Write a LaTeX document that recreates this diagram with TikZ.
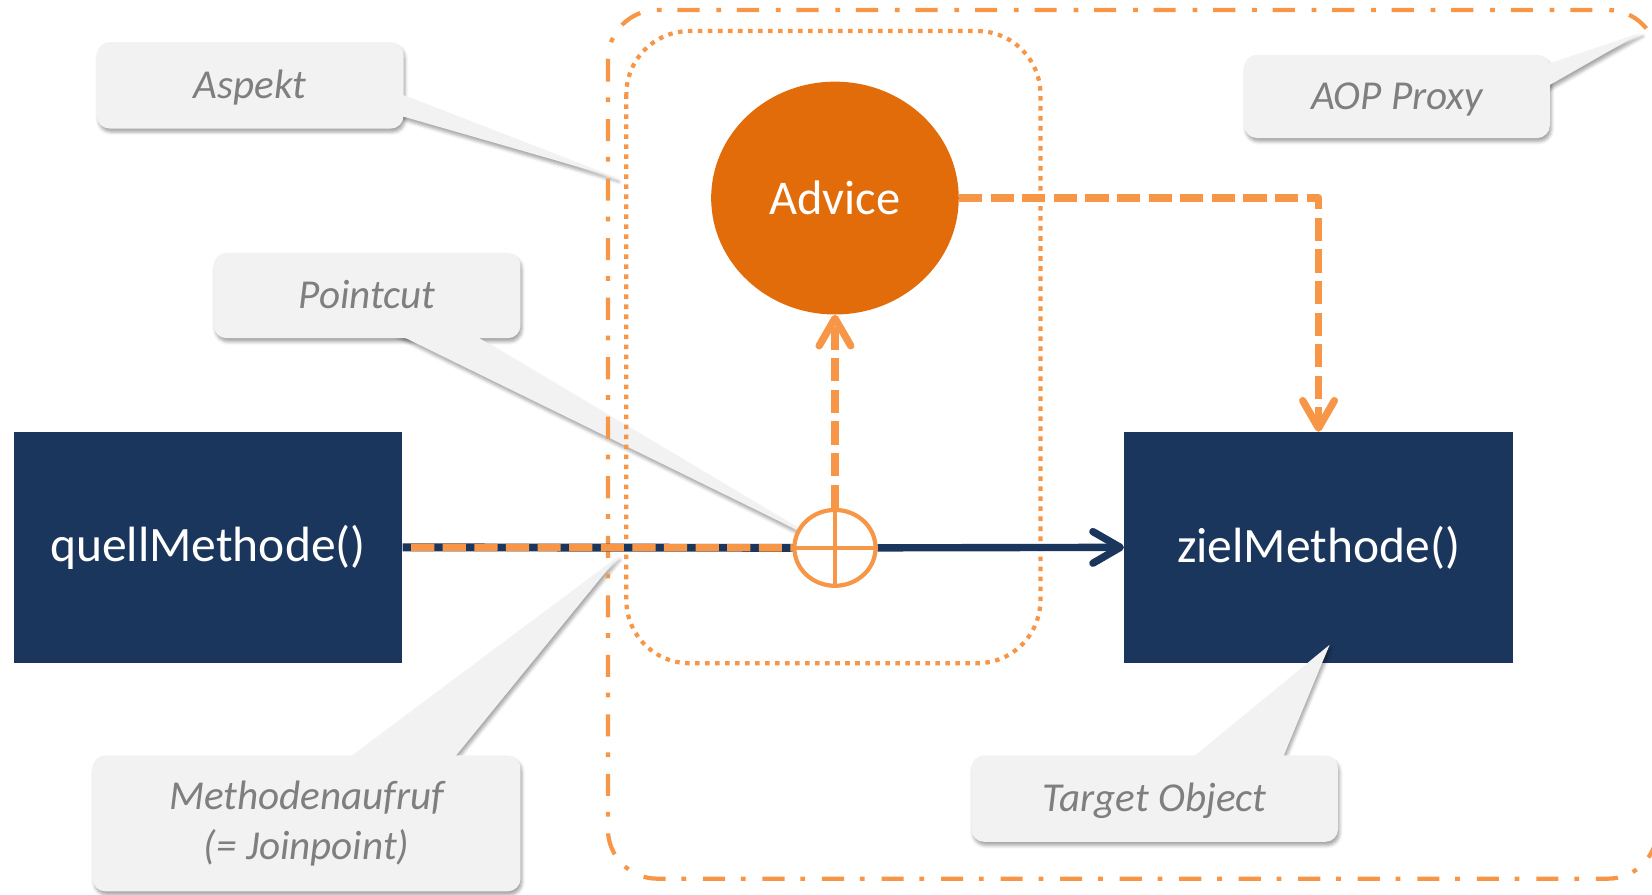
\documentclass[tikz,border=0pt]{standalone}
\usepackage{fontspec}
\setmainfont{Carlito}
\usetikzlibrary{arrows.meta,shapes.geometric,shadows.blur}

\definecolor{navy}{HTML}{1B365D}
\definecolor{advorange}{HTML}{E36C0A}
\definecolor{lineorange}{HTML}{F79646}
\definecolor{calloutgray}{HTML}{F2F2F2}
\definecolor{labelgray}{HTML}{7F7F7F}

\tikzset{
  softshadow/.style={blur shadow={shadow xshift=1.5pt, shadow yshift=-3.5pt,
      shadow blur radius=3pt, shadow opacity=35}},
  methodbox/.style={rectangle, fill=navy, text=white, inner sep=0pt,
      minimum width=369pt, minimum height=219pt,
      font=\fontsize{47}{56}\selectfont},
  advicenode/.style={ellipse, fill=advorange, text=white, inner sep=0pt,
      minimum width=235pt, minimum height=221pt,
      font=\fontsize{46}{55}\selectfont},
  joinpoint/.style={ellipse, draw=lineorange, fill=white, line width=4pt,
      inner sep=0pt, minimum width=77pt, minimum height=72pt},
  calloutbox/.style={rectangle, rounded corners=12pt, fill=calloutgray,
      text=labelgray, inner sep=0pt, align=center, softshadow,
      font=\fontsize{39}{48}\selectfont\itshape},
  oneline/.style={text height=30pt, text depth=5pt},
  wedgefill/.style={fill=calloutgray},
  proxyframe/.style={draw=lineorange, line width=4pt, rounded corners=47pt,
      dash pattern=on 21pt off 15pt on 4.5pt off 16pt},
  aspectframe/.style={draw=lineorange, line width=4pt, rounded corners=60pt,
      dash pattern=on 4.3pt off 5.2pt},
  orangedash/.style={draw=lineorange, line width=7pt,
      dash pattern=on 22pt off 8pt},
  barb/.style={-{Straight Barb[length=26pt,width=30pt,round]}},
}

\begin{document}
\begin{tikzpicture}[x=1pt,y=-1pt]
\useasboundingbox (0,0) rectangle (1568,849);

% method boxes and the advice
\node[methodbox] (quell) at (197.5,519.5) {quellMethode()};
\node[methodbox] (ziel) at (1251.5,519.5) {zielMethode()};
\node[advicenode] (advice) at (792.5,188) {Advice};

% callout tips
\coordinate (tipAspekt) at (586,169);
\coordinate (tipPointcut) at (781,515);
\coordinate (tipProxy) at (1558,31);
\coordinate (tipAufruf) at (587,528);
\coordinate (tipTarget) at (1262,612);

% callouts: wedge shadow, box, wedge
\path[softshadow] (377,88) -- (377,109) -- (tipAspekt) -- cycle;
\node[calloutbox, oneline, minimum width=291pt, minimum height=82pt] (aspekt) at (237.5,81) {Aspekt};
\fill[wedgefill] (377,88) -- (377,109) -- (tipAspekt) -- cycle;

\path[softshadow] (373,315) -- (445,315) -- (tipPointcut) -- cycle;
\node[calloutbox, oneline, minimum width=291pt, minimum height=81pt] (pointcut) at (348.5,280.5) {Pointcut};
\fill[wedgefill] (373,315) -- (445,315) -- (tipPointcut) -- cycle;

\path[softshadow] (1465,62) -- (1465,84) -- (tipProxy) -- cycle;
\node[calloutbox, oneline, minimum width=290pt, minimum height=79pt] (proxy) at (1326,91.5) {AOP Proxy};
\fill[wedgefill] (1465,62) -- (1465,84) -- (tipProxy) -- cycle;

\path[softshadow] (326,723) -- (428,723) -- (tipAufruf) -- cycle;
\node[calloutbox, minimum width=406pt, minimum height=129pt] (aufruf) at (291,781.5) {\raisebox{-2.5pt}{Methodenaufruf}\\\raisebox{-2.5pt}{(= Joinpoint)}};
\fill[wedgefill] (326,723) -- (428,723) -- (tipAufruf) -- cycle;

\path[softshadow] (1127,723) -- (1216,723) -- (tipTarget) -- cycle;
\node[calloutbox, oneline, minimum width=348pt, minimum height=82pt] (target) at (1096,758) {Target Object};
\fill[wedgefill] (1127,723) -- (1216,723) -- (tipTarget) -- cycle;

% proxy and aspect frames
\draw[proxyframe] (577,9.5) rectangle (1573,834);
\draw[aspectframe] (594.5,29.5) rectangle (987.5,629.5);

% joinpoint
\node[joinpoint] (jp) at (792.5,520) {};

% connectors
\draw[navy, line width=7.5pt] (quell.east) -- (jp.west);
\draw[orangedash, dash phase=22pt] (quell.east) -- (jp.west);
\draw[navy, line width=7pt, barb] (jp.east) -- (ziel.west);
\draw[orangedash, barb] (jp.north) -- (advice.south);
\draw[orangedash, barb, line join=round] (advice.east) -| (ziel.north);

% cross inside the joinpoint
\draw[lineorange, line width=4pt] (jp.north) -- (jp.south) (jp.west) -- (jp.east);
\end{tikzpicture}
\end{document}
